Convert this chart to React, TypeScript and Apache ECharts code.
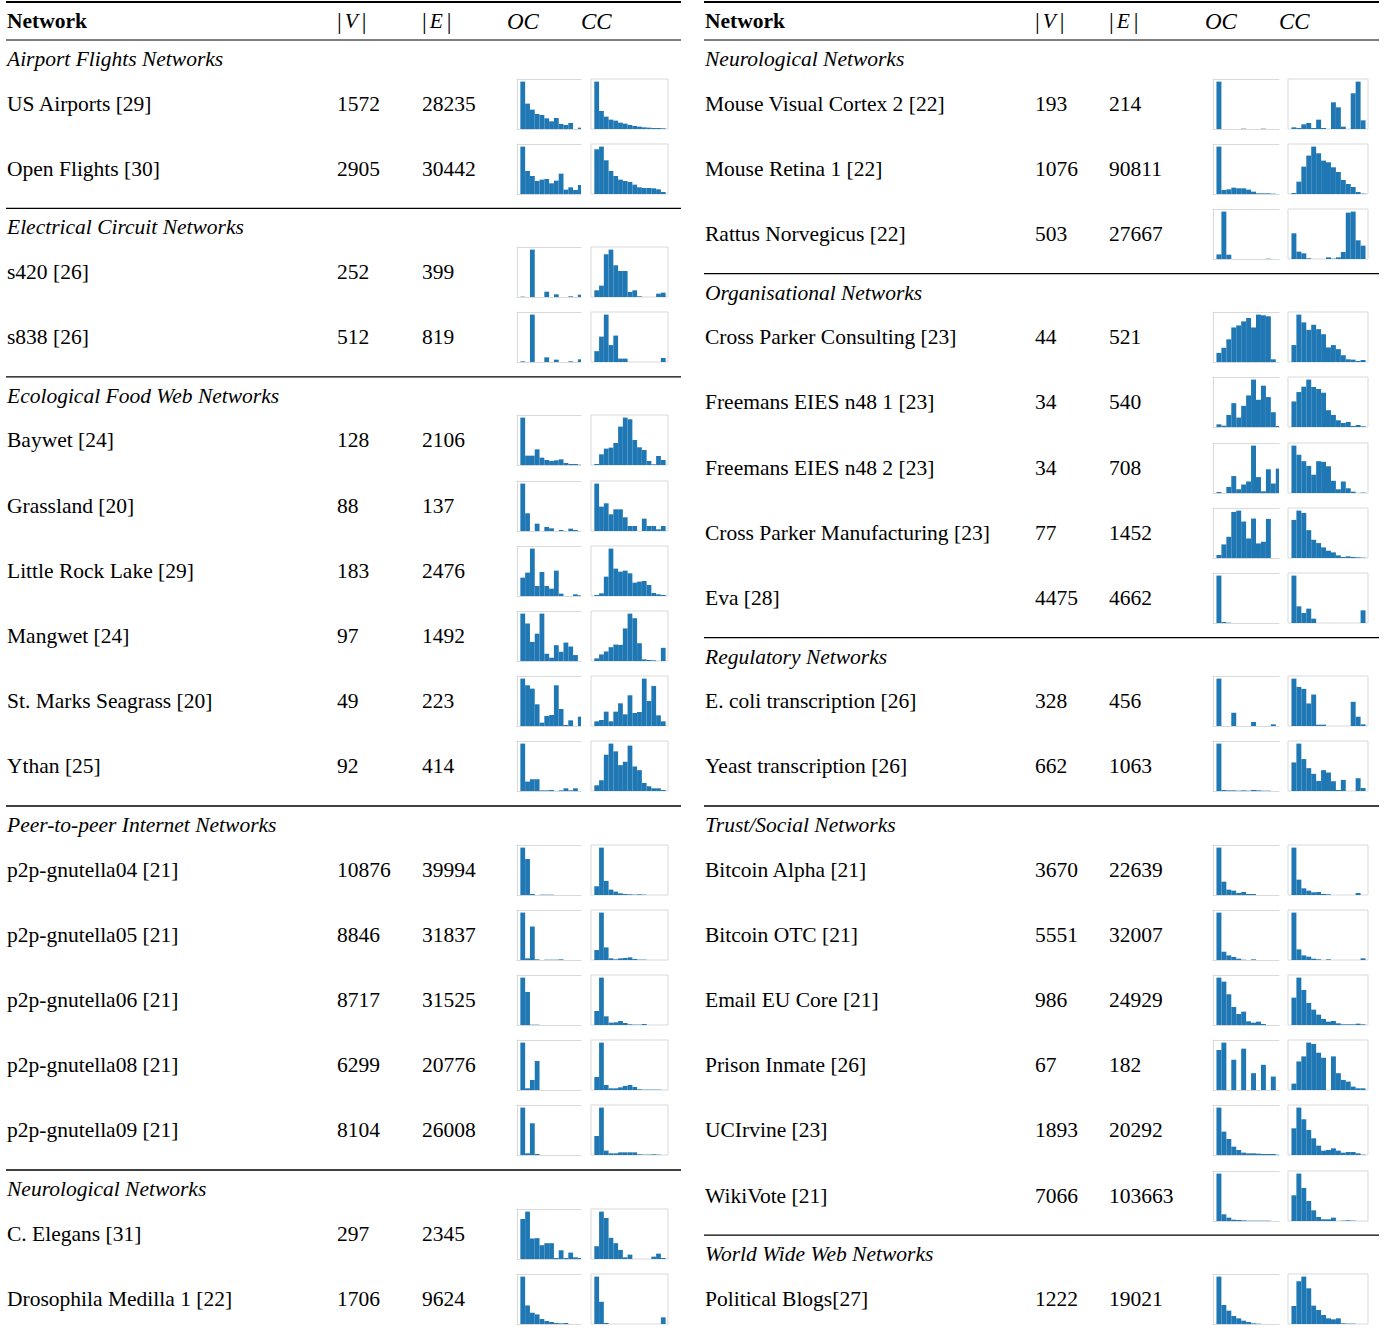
import React, { useEffect, useRef } from 'react';
import * as echarts from 'echarts';

// ---------- Table content ----------
const leftSections = ['Airport Flights Networks', 'Electrical Circuit Networks', 'Ecological Food Web Networks', 'Peer-to-peer Internet Networks', 'Neurological Networks'];
const leftSectionSizes = [2, 2, 6, 5, 2];
const leftNames = [
  'US Airports [29]', 'Open Flights [30]',
  's420 [26]', 's838 [26]',
  'Baywet [24]', 'Grassland [20]', 'Little Rock Lake [29]', 'Mangwet [24]', 'St. Marks Seagrass [20]', 'Ythan [25]',
  'p2p-gnutella04 [21]', 'p2p-gnutella05 [21]', 'p2p-gnutella06 [21]', 'p2p-gnutella08 [21]', 'p2p-gnutella09 [21]',
  'C. Elegans [31]', 'Drosophila Medilla 1 [22]',
];
const leftV = [1572, 2905, 252, 512, 128, 88, 183, 97, 49, 92, 10876, 8846, 8717, 6299, 8104, 297, 1706];
const leftE = [28235, 30442, 399, 819, 2106, 137, 2476, 1492, 223, 414, 39994, 31837, 31525, 20776, 26008, 2345, 9624];

const rightSections = ['Neurological Networks', 'Organisational Networks', 'Regulatory Networks', 'Trust/Social Networks', 'World Wide Web Networks'];
const rightSectionSizes = [3, 5, 2, 6, 1];
const rightNames = [
  'Mouse Visual Cortex 2 [22]', 'Mouse Retina 1 [22]', 'Rattus Norvegicus [22]',
  'Cross Parker Consulting [23]', 'Freemans EIES n48 1 [23]', 'Freemans EIES n48 2 [23]', 'Cross Parker Manufacturing [23]', 'Eva [28]',
  'E. coli transcription [26]', 'Yeast transcription [26]',
  'Bitcoin Alpha [21]', 'Bitcoin OTC [21]', 'Email EU Core [21]', 'Prison Inmate [26]', 'UCIrvine [23]', 'WikiVote [21]',
  'Political Blogs[27]',
];
const rightV = [193, 1076, 503, 44, 34, 34, 77, 4475, 328, 662, 3670, 5551, 986, 67, 1893, 7066, 1222];
const rightE = [214, 90811, 27667, 521, 540, 708, 1452, 4662, 456, 1063, 22639, 32007, 24929, 182, 20292, 103663, 19021];

// ---------- Histogram bin heights (relative counts) ----------
const leftOC = [
  [142, 76, 58, 45, 42, 32, 23, 33, 15, 12, 18, 0, 4],
  [142, 69, 54, 39, 43, 45, 32, 40, 61, 13, 20, 12, 27],
  [1, 0, 143, 0, 0, 16, 0, 8, 0, 0, 2, 0, 7],
  [2, 0, 142, 0, 0, 14, 0, 7, 0, 0, 2, 0, 8],
  [142, 28, 28, 47, 22, 15, 12, 14, 17, 6, 3, 3, 1],
  [142, 53, 0, 22, 0, 12, 8, 0, 3, 0, 7, 3, 0],
  [55, 70, 142, 30, 72, 30, 22, 76, 7, 0, 0, 5, 2],
  [144, 114, 58, 83, 144, 22, 10, 48, 28, 56, 44, 18, 0],
  [142, 122, 112, 65, 10, 30, 33, 122, 51, 3, 17, 0, 28],
  [141, 28, 35, 35, 2, 2, 3, 0, 2, 8, 2, 8, 0],
  [141, 107, 3, 0, 1, 1, 1, 0, 0, 0, 0, 0, 0],
  [143, 5, 101, 2, 0, 1, 1, 1, 2, 0, 0, 0, 0],
  [142, 99, 1, 1, 0, 0, 0, 0, 0, 0, 0, 0, 0],
  [142, 5, 30, 87, 0, 0, 0, 0, 0, 0, 0, 0, 0],
  [142, 5, 95, 3, 0, 0, 0, 0, 0, 0, 0, 0, 0],
  [119, 141, 61, 62, 41, 47, 47, 3, 26, 3, 19, 5, 3],
  [143, 56, 34, 29, 15, 9, 6, 3, 2, 3, 0, 0, 0],
];
const leftCC = [
  [142, 54, 37, 28, 25, 19, 16, 12, 9, 7, 5, 4, 3, 3, 2],
  [134, 142, 101, 69, 54, 43, 39, 36, 28, 20, 18, 18, 17, 14, 6],
  [20, 34, 128, 142, 95, 78, 78, 15, 20, 2, 0, 0, 0, 10, 13],
  [32, 75, 140, 50, 78, 10, 10, 0, 0, 0, 0, 0, 0, 0, 12],
  [3, 32, 49, 52, 66, 115, 142, 137, 75, 53, 45, 12, 2, 27, 15],
  [142, 73, 83, 50, 65, 65, 41, 15, 15, 0, 37, 15, 15, 5, 15],
  [3, 8, 58, 142, 82, 73, 76, 68, 40, 43, 45, 33, 9, 5, 3],
  [8, 20, 29, 42, 50, 49, 99, 144, 130, 54, 5, 3, 2, 0, 40],
  [14, 18, 43, 14, 43, 68, 35, 92, 39, 42, 142, 75, 120, 32, 14],
  [17, 32, 108, 141, 118, 77, 87, 135, 73, 62, 24, 14, 8, 8, 3],
  [26, 141, 42, 16, 10, 5, 3, 2, 1, 2, 1, 0, 0, 0, 0],
  [30, 143, 38, 5, 2, 5, 6, 8, 3, 1, 1, 0, 0, 0, 0],
  [42, 142, 26, 7, 8, 12, 6, 2, 1, 1, 3, 0, 0, 0, 0],
  [39, 142, 15, 5, 5, 8, 12, 15, 9, 2, 1, 1, 1, 1, 0],
  [57, 142, 13, 5, 5, 8, 8, 8, 8, 2, 1, 1, 2, 1, 0],
  [38, 141, 122, 63, 47, 27, 5, 13, 0, 0, 0, 0, 7, 16, 3],
  [143, 67, 3, 0, 0, 0, 0, 0, 0, 0, 0, 0, 0, 0, 20],
];
const rightOC = [
  [142, 0, 0, 0, 0, 1, 0, 0, 0, 1, 0, 0, 0],
  [142, 12, 14, 19, 17, 17, 13, 7, 2, 2, 2, 1, 0],
  [14, 144, 13, 0, 0, 0, 0, 0, 0, 0, 1, 0, 0],
  [27, 42, 67, 102, 108, 120, 130, 102, 140, 138, 135, 8, 0],
  [8, 4, 36, 71, 28, 63, 94, 141, 81, 123, 89, 44, 3],
  [3, 0, 18, 50, 11, 25, 34, 140, 47, 5, 70, 28, 72],
  [9, 41, 64, 139, 143, 110, 59, 119, 44, 49, 118, 0, 0],
  [142, 3, 1, 0, 0, 0, 0, 0, 0, 0, 0, 0, 0],
  [143, 0, 0, 40, 0, 0, 0, 12, 0, 0, 0, 5, 0],
  [141, 3, 2, 2, 1, 2, 1, 3, 2, 1, 1, 0, 0],
  [142, 40, 16, 13, 6, 9, 3, 3, 0, 0, 0, 0, 0],
  [143, 25, 14, 9, 4, 1, 0, 2, 0, 0, 0, 0, 0],
  [142, 130, 92, 54, 33, 40, 11, 7, 10, 3, 0, 0, 0],
  [119, 141, 0, 90, 0, 123, 0, 50, 0, 75, 0, 40, 0],
  [142, 70, 48, 25, 15, 7, 5, 5, 4, 3, 3, 3, 1],
  [142, 20, 10, 4, 3, 2, 1, 1, 1, 1, 1, 0, 0],
  [142, 57, 40, 24, 17, 10, 6, 2, 1, 0, 0, 0, 0],
];
const rightCC = [
  [5, 3, 14, 18, 3, 28, 3, 0, 80, 65, 7, 0, 107, 142, 26],
  [3, 37, 82, 115, 142, 122, 100, 95, 80, 66, 42, 30, 21, 6, 1],
  [77, 22, 17, 2, 0, 0, 0, 5, 1, 5, 21, 139, 142, 56, 40],
  [50, 140, 117, 95, 110, 97, 82, 43, 50, 38, 20, 8, 7, 3, 6],
  [76, 104, 120, 141, 119, 113, 102, 50, 36, 20, 12, 15, 3, 6, 2],
  [140, 113, 94, 80, 54, 94, 92, 79, 36, 11, 34, 14, 4, 0, 1],
  [115, 143, 136, 84, 55, 45, 32, 22, 17, 8, 3, 5, 3, 2, 1],
  [142, 50, 30, 43, 13, 0, 0, 0, 0, 0, 0, 0, 0, 0, 38],
  [143, 118, 112, 68, 95, 4, 4, 0, 0, 0, 0, 0, 73, 28, 5],
  [85, 141, 95, 68, 51, 30, 62, 55, 29, 3, 33, 0, 0, 38, 9],
  [142, 46, 20, 13, 8, 9, 3, 2, 0, 0, 0, 0, 0, 6, 0],
  [143, 32, 14, 10, 4, 2, 0, 2, 0, 0, 0, 0, 0, 0, 5],
  [82, 142, 105, 66, 46, 31, 18, 10, 12, 5, 2, 2, 2, 4, 2],
  [19, 85, 100, 141, 137, 111, 96, 0, 100, 50, 30, 25, 10, 5, 5],
  [80, 142, 107, 75, 50, 28, 13, 15, 20, 13, 7, 9, 9, 5, 1],
  [77, 142, 99, 60, 32, 12, 5, 5, 10, 0, 1, 2, 1, 0, 0],
  [54, 128, 142, 107, 55, 42, 27, 17, 14, 17, 2, 1, 1, 0, 0],
];

// ---------- Layout / style ----------
const FONT = 'Liberation Serif';
const FS = 21.5;
const BLUE = '#1f77b4';
const FRAME = '#d9d9d9';

const COLS = [
  { x0: 6, x1: 681, name: 7, v: 337, e: 422, oc: 507, cc: 581, ocL: 517, ocW: 64, ccL: 591, ccW: 77,
    sections: leftSections, sizes: leftSectionSizes, names: leftNames, V: leftV, E: leftE, OC: leftOC, CC: leftCC },
  { x0: 704, x1: 1379, name: 705, v: 1035, e: 1109, oc: 1205, cc: 1279, ocL: 1213, ocW: 66, ccL: 1288, ccW: 80,
    sections: rightSections, sizes: rightSectionSizes, names: rightNames, V: rightV, E: rightE, OC: rightOC, CC: rightCC },
];

const renderBar = (params: any, api: any) => {
  const i = api.value(0);
  const v = api.value(1);
  const empty = { type: 'group', children: [] };
  if (!(v > 0)) return empty;
  const a = api.coord([i - 0.5, v]);
  const b = api.coord([i + 0.5, 0]);
  const cs = params.coordSys;
  const x0 = Math.max(a[0], cs.x);
  const x1 = Math.min(b[0], cs.x + cs.width);
  if (x1 <= x0) return empty;
  return {
    type: 'rect',
    shape: { x: x0, y: a[1], width: x1 - x0, height: b[1] - a[1] },
    style: { fill: BLUE },
  };
};

function buildOption() {
  const grid: any[] = [];
  const xAxis: any[] = [];
  const yAxis: any[] = [];
  const series: any[] = [];
  const elements: any[] = [];

  const txt = (x: number, y: number, text: string, extra: any = {}) =>
    elements.push({
      type: 'text', x, y, silent: true,
      style: { text, fontFamily: FONT, fontSize: FS, fill: '#000', align: 'left', verticalAlign: 'middle', ...extra },
    });
  const hline = (x1: number, x2: number, y: number, w: number) =>
    elements.push({ type: 'line', silent: true, shape: { x1, y1: y, x2, y2: y }, style: { stroke: '#000', lineWidth: w } });

  const axisLine = { show: true, onZero: false, lineStyle: { color: FRAME, width: 1 } };
  const addHist = (data: number[], left: number, top: number, width: number, isOC: boolean) => {
    const gi = grid.length;
    grid.push({ left, top, width, height: 50, show: !isOC, borderColor: FRAME, borderWidth: 1, backgroundColor: 'transparent' });
    const min = -1.2;
    const max = isOC ? 12.15 : 15.0;
    const xi = xAxis.length;
    const axCommon = { type: 'value', gridIndex: gi, min, max, show: isOC, axisLine, axisTick: { show: false }, axisLabel: { show: false }, splitLine: { show: false } };
    xAxis.push({ ...axCommon, position: 'bottom' });
    if (isOC) xAxis.push({ ...axCommon, position: 'top' });
    const yi = yAxis.length;
    yAxis.push({
      type: 'value', gridIndex: gi, min: 0, max: (e: any) => e.max * 1.055, show: isOC, position: 'left',
      axisLine, axisTick: { show: false }, axisLabel: { show: false }, splitLine: { show: false },
    });
    series.push({
      type: 'custom', xAxisIndex: xi, yAxisIndex: yi, silent: true,
      data: data.map((v, i) => [i, v]), renderItem: renderBar,
    });
  };

  const rich = {
    i: { fontFamily: FONT, fontSize: FS, fontStyle: 'italic', fill: '#000', padding: [0, 4, 0, 3] },
    n: { fontFamily: FONT, fontSize: FS + 2, fill: '#000' },
  };

  COLS.forEach((c) => {
    // header
    hline(c.x0, c.x1, 2, 2);
    txt(c.name, 21, 'Network', { fontWeight: 'bold' });
    txt(c.v, 21, '{n||}{i|V}{n||}', { rich });
    txt(c.e, 21, '{n||}{i|E}{n||}', { rich });
    txt(c.oc, 21, 'OC', { fontStyle: 'italic', fontSize: FS + 1.5 });
    txt(c.cc, 21, 'CC', { fontStyle: 'italic', fontSize: FS + 1.5 });
    hline(c.x0, c.x1, 40, 1);

    let R = 40;
    let idx = 0;
    c.sizes.forEach((n, s) => {
      if (s > 0) hline(c.x0, c.x1, R, 1.3);
      txt(c.name, R + 19, c.sections[s], { fontStyle: 'italic' });
      for (let k = 0; k < n; k++) {
        const y = R + 63.5 + k * 65.2;
        txt(c.name, y, c.names[idx]);
        txt(c.v, y, String(c.V[idx]));
        txt(c.e, y, String(c.E[idx]));
        addHist(c.OC[idx], c.ocL, Math.round(y - 25), c.ocW, true);
        addHist(c.CC[idx], c.ccL, Math.round(y - 25), c.ccW, false);
        idx++;
      }
      R = R + 38 + 65.2 * n;
    });
  });

  return {
    animation: false,
    backgroundColor: '#fff',
    grid, xAxis, yAxis, series,
    graphic: { elements },
  };
}

export default function App() {
  const ref = useRef<HTMLDivElement>(null);
  useEffect(() => {
    document.body.style.margin = '0';
    const chart = echarts.init(ref.current as HTMLDivElement, null, { renderer: 'svg' });
    chart.setOption(buildOption() as any);
    return () => chart.dispose();
  }, []);
  return <div ref={ref} style={{ width: 1398, height: 1337 }} />;
}
